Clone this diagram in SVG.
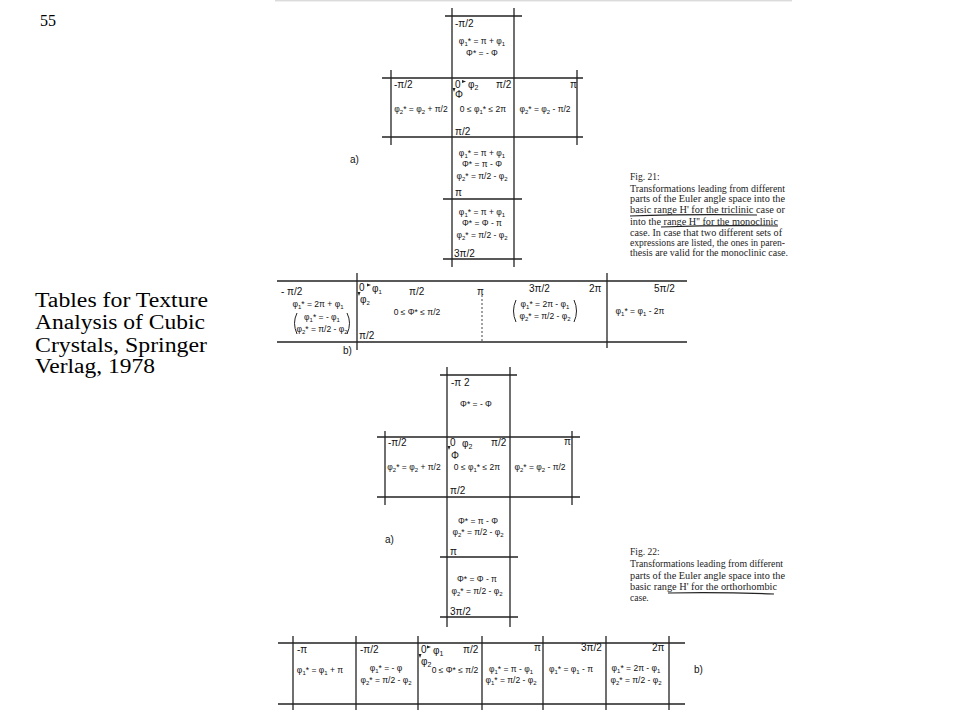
<svg xmlns="http://www.w3.org/2000/svg" width="960" height="720" viewBox="0 0 960 720">
<style>
.ln{stroke:#222;stroke-width:1.3;fill:none}
.dash{stroke:#444;stroke-width:1;stroke-dasharray:2 2;fill:none}
.lb{font-family:"Liberation Sans",Arial,sans-serif;font-size:10px;fill:#111}
.fm{font-family:"Liberation Sans",Arial,sans-serif;font-size:8.5px;fill:#111;text-anchor:middle}
.s{font-size:6px;baseline-shift:-2px}
.cap{font-family:"Liberation Serif","Times New Roman",serif;font-size:9.5px;fill:#222}
.big{font-family:"Liberation Serif","Times New Roman",serif;font-size:20px;fill:#000}
.ul{stroke:#222;stroke-width:1.1;fill:none}
.par{stroke:#222;stroke-width:1;fill:none}
</style>
<rect width="960" height="720" fill="#fff"/>
<line x1="275" y1="0.8" x2="792" y2="0.8" stroke="#ccc" stroke-width="1"/>
<text x="40" y="26" class="big" style="font-size:16px">55</text>
<g id="source">
<text class="big" x="35" y="307" textLength="173" lengthAdjust="spacingAndGlyphs">Tables for Texture</text>
<text class="big" x="35" y="329" textLength="170" lengthAdjust="spacingAndGlyphs">Analysis of Cubic</text>
<text class="big" x="35" y="352" textLength="172" lengthAdjust="spacingAndGlyphs">Crystals, Springer</text>
<text class="big" x="35" y="373" textLength="120" lengthAdjust="spacingAndGlyphs">Verlag, 1978</text>
</g>

<!-- Fig 21 a -->
<g id="fig21a">
<g class="ln">
<line x1="445" y1="16" x2="522" y2="16"/>
<line x1="452" y1="8" x2="452" y2="267"/>
<line x1="514" y1="8" x2="514" y2="267"/>
<line x1="382" y1="78" x2="583" y2="78"/>
<line x1="382" y1="137" x2="583" y2="137"/>
<line x1="391" y1="70" x2="391" y2="145"/>
<line x1="577" y1="70" x2="577" y2="145"/>
<line x1="443" y1="199" x2="522" y2="199"/>
<line x1="443" y1="259" x2="522" y2="259"/>
</g>
<text class="lb" x="455" y="27">-π/2</text>
<text class="fm" x="482" y="44">φ<tspan class="s">1</tspan>* = π + φ<tspan class="s">1</tspan></text>
<text class="fm" x="482" y="56">Φ* = - Φ</text>
<text class="lb" x="394" y="88">-π/2</text>
<text class="lb" x="455" y="88">0</text>
<path d="M462,80 l4,1.5 l-4,1.5z" fill="#222"/>
<text class="lb" x="468" y="88">φ<tspan font-size="7" baseline-shift="-2">2</tspan></text>
<text class="lb" x="496" y="88">π/2</text>
<text class="lb" x="570" y="88">π</text>
<path d="M452.5,88 l1.5,4 l1.5,-4z" fill="#222"/>
<text class="lb" x="455" y="98" font-size="9">Φ</text>
<text class="fm" x="421" y="112">φ<tspan class="s">2</tspan>* = φ<tspan class="s">2</tspan> + π/2</text>
<text class="fm" x="483" y="112">0 ≤ φ<tspan class="s">1</tspan>* ≤ 2π</text>
<text class="fm" x="545" y="112">φ<tspan class="s">2</tspan>* = φ<tspan class="s">2</tspan> - π/2</text>
<text class="lb" x="455" y="135">π/2</text>
<text class="lb" x="350" y="163">a)</text>
<text class="fm" x="482" y="156">φ<tspan class="s">1</tspan>* = π + φ<tspan class="s">1</tspan></text>
<text class="fm" x="482" y="167">Φ* = π - Φ</text>
<text class="fm" x="482" y="179">φ<tspan class="s">2</tspan>* = π/2 - φ<tspan class="s">2</tspan></text>
<text class="lb" x="455" y="196">π</text>
<text class="fm" x="482" y="215">φ<tspan class="s">1</tspan>* = π + φ<tspan class="s">1</tspan></text>
<text class="fm" x="482" y="226">Φ* = Φ - π</text>
<text class="fm" x="482" y="238">φ<tspan class="s">2</tspan>* = π/2 - φ<tspan class="s">2</tspan></text>
<text class="lb" x="454" y="257">3π/2</text>
</g>

<!-- Fig 21 caption -->
<g id="caption21">
<text class="cap" x="630" y="180">Fig. 21:</text>
<text class="cap" x="630" y="192" textLength="155" lengthAdjust="spacingAndGlyphs">Transformations leading from different</text>
<text class="cap" x="630" y="202" textLength="155" lengthAdjust="spacingAndGlyphs">parts of the Euler angle space into the</text>
<text class="cap" x="630" y="213" textLength="155" lengthAdjust="spacingAndGlyphs">basic range H' for the triclinic case or</text>
<text class="cap" x="630" y="225" textLength="148" lengthAdjust="spacingAndGlyphs">into the range H'' for the monoclinic</text>
<text class="cap" x="630" y="236" textLength="152" lengthAdjust="spacingAndGlyphs">case. In case that two different sets of</text>
<text class="cap" x="630" y="246" textLength="155" lengthAdjust="spacingAndGlyphs">expressions are listed, the ones in paren-</text>
<text class="cap" x="630" y="256" textLength="158" lengthAdjust="spacingAndGlyphs">thesis are valid for the monoclinic case.</text>
<path class="ul" d="M630,216 Q690,214 757,215"/>
<path class="ul" d="M661,227 Q720,225 778,226"/>
</g>

<!-- Fig 21 b -->
<g id="fig21b">
<g class="ln">
<line x1="277" y1="281" x2="687" y2="281"/>
<line x1="277" y1="342" x2="687" y2="342"/>
<line x1="357" y1="273" x2="357" y2="350"/>
<line x1="607" y1="273" x2="607" y2="348"/>
</g>
<line class="dash" x1="482" y1="295" x2="482" y2="342"/>
<text class="lb" x="281" y="295">- π/2</text>
<text class="fm" x="318" y="307">φ<tspan class="s">1</tspan>* = 2π + φ<tspan class="s">1</tspan></text>
<text class="fm" x="322" y="320" font-size="7.5">φ<tspan class="s">1</tspan>* = - φ<tspan class="s">1</tspan></text>
<text class="fm" x="322" y="332" font-size="7.5">φ<tspan class="s">2</tspan>* = π/2 - φ<tspan class="s">2</tspan></text>
<path class="par" d="M297,313 Q292,323 297,334"/>
<path class="par" d="M347,313 Q352,323 347,334"/>
<text class="lb" x="359" y="291">0</text>
<path d="M367,283.5 l4,1.5 l-4,1.5z" fill="#222"/>
<text class="lb" x="372" y="292" font-size="9">φ<tspan font-size="6" baseline-shift="-2">1</tspan></text>
<path d="M357.5,292 l1.5,4 l1.5,-4z" fill="#222"/>
<text class="lb" x="360" y="303" font-size="9">φ<tspan font-size="6" baseline-shift="-2">2</tspan></text>
<text class="lb" x="409" y="295">π/2</text>
<text class="fm" x="417" y="315">0 ≤ Φ* ≤ π/2</text>
<text class="lb" x="359" y="339">π/2</text>
<text class="lb" x="477" y="295">π</text>
<text class="lb" x="529" y="292">3π/2</text>
<text class="lb" x="589" y="292">2π</text>
<text class="lb" x="654" y="292">5π/2</text>
<text class="fm" x="545" y="307" font-size="8">φ<tspan class="s">1</tspan>* = 2π - φ<tspan class="s">1</tspan></text>
<text class="fm" x="545" y="319" font-size="8">φ<tspan class="s">2</tspan>* = π/2 - φ<tspan class="s">2</tspan></text>
<path class="par" d="M516,300 Q511,311 516,322"/>
<path class="par" d="M574,300 Q579,311 574,322"/>
<text class="fm" x="640" y="314">φ<tspan class="s">1</tspan>* = φ<tspan class="s">1</tspan> - 2π</text>
<text class="lb" x="343" y="354">b)</text>
</g>

<!-- Fig 22 a -->
<g id="fig22a">
<g class="ln">
<line x1="440" y1="375" x2="517" y2="375"/>
<line x1="447" y1="367" x2="447" y2="627"/>
<line x1="510" y1="367" x2="510" y2="627"/>
<line x1="377" y1="437" x2="580" y2="437"/>
<line x1="377" y1="497" x2="580" y2="497"/>
<line x1="385" y1="431" x2="385" y2="505"/>
<line x1="572" y1="431" x2="572" y2="505"/>
<line x1="440" y1="557" x2="518" y2="557"/>
<line x1="440" y1="617" x2="518" y2="617"/>
</g>
<text class="lb" x="451" y="386">-π 2</text>
<text class="fm" x="476" y="407">Φ* = - Φ</text>
<text class="lb" x="388" y="446">-π/2</text>
<text class="lb" x="450" y="446">0</text>
<text class="lb" x="462" y="447">φ<tspan font-size="7" baseline-shift="-2">2</tspan></text>
<text class="lb" x="491" y="446">π/2</text>
<text class="lb" x="564" y="445">π</text>
<path d="M447.5,446 l1.5,4 l1.5,-4z" fill="#222"/>
<text class="lb" x="451" y="459" font-size="9">Φ</text>
<text class="fm" x="414" y="470">φ<tspan class="s">2</tspan>* = φ<tspan class="s">2</tspan> + π/2</text>
<text class="fm" x="477" y="470">0 ≤ φ<tspan class="s">1</tspan>* ≤ 2π</text>
<text class="fm" x="540" y="470">φ<tspan class="s">2</tspan>* = φ<tspan class="s">2</tspan> - π/2</text>
<text class="lb" x="450" y="494">π/2</text>
<text class="lb" x="385" y="543">a)</text>
<text class="fm" x="478" y="524">Φ* = π - Φ</text>
<text class="fm" x="478" y="535">φ<tspan class="s">2</tspan>* = π/2 - φ<tspan class="s">2</tspan></text>
<text class="lb" x="450" y="555">π</text>
<text class="fm" x="477" y="582">Φ* = Φ - π</text>
<text class="fm" x="477" y="594">φ<tspan class="s">2</tspan>* = π/2 - φ<tspan class="s">2</tspan></text>
<text class="lb" x="450" y="615">3π/2</text>
</g>

<!-- Fig 22 caption -->
<g id="caption22">
<text class="cap" x="630" y="555">Fig. 22:</text>
<text class="cap" x="630" y="567" textLength="153" lengthAdjust="spacingAndGlyphs">Transformations leading from different</text>
<text class="cap" x="630" y="579" textLength="155" lengthAdjust="spacingAndGlyphs">parts of the Euler angle space into the</text>
<text class="cap" x="630" y="590" textLength="147" lengthAdjust="spacingAndGlyphs">basic range H' for the orthorhombic</text>
<text class="cap" x="630" y="601">case.</text>
<path class="ul" d="M668,593 Q720,592 774,594"/>
</g>

<!-- Fig 22 b -->
<g id="fig22b">
<g class="ln">
<line x1="278" y1="643" x2="685" y2="643"/>
<line x1="278" y1="704" x2="685" y2="704"/>
<line x1="293" y1="636" x2="293" y2="710"/>
<line x1="356" y1="636" x2="356" y2="710"/>
<line x1="418" y1="636" x2="418" y2="710"/>
<line x1="482" y1="636" x2="482" y2="710"/>
<line x1="543" y1="636" x2="543" y2="710"/>
<line x1="606" y1="636" x2="606" y2="710"/>
<line x1="669" y1="636" x2="669" y2="710"/>
</g>
<text class="lb" x="297" y="653">-π</text>
<text class="fm" x="320" y="673">φ<tspan class="s">1</tspan>* = φ<tspan class="s">1</tspan> + π</text>
<text class="lb" x="360" y="653">-π/2</text>
<text class="fm" x="386" y="671">φ<tspan class="s">1</tspan>* = - φ</text>
<text class="fm" x="386" y="683">φ<tspan class="s">2</tspan>* = π/2 - φ<tspan class="s">2</tspan></text>
<text class="lb" x="421" y="653">0</text>
<path d="M427,645.5 l4,1.5 l-4,1.5z" fill="#222"/>
<text class="lb" x="433" y="654">φ<tspan font-size="7" baseline-shift="-2">1</tspan></text>
<text class="lb" x="463" y="653">π/2</text>
<path d="M418.5,654 l1.5,4 l1.5,-4z" fill="#222"/>
<text class="lb" x="421" y="665">φ<tspan font-size="7" baseline-shift="-2">2</tspan></text>
<text class="fm" x="455" y="673" font-size="7.5">0 ≤ Φ* ≤ π/2</text>
<text class="lb" x="534" y="651">π</text>
<text class="fm" x="511" y="672">φ<tspan class="s">1</tspan>* = π - φ<tspan class="s">1</tspan></text>
<text class="fm" x="511" y="683">φ<tspan class="s">1</tspan>* = π/2 - φ<tspan class="s">2</tspan></text>
<text class="lb" x="581" y="651">3π/2</text>
<text class="fm" x="571" y="672">φ<tspan class="s">1</tspan>* = φ<tspan class="s">1</tspan> - π</text>
<text class="lb" x="652" y="651">2π</text>
<text class="fm" x="636" y="671">φ<tspan class="s">1</tspan>* = 2π - φ<tspan class="s">1</tspan></text>
<text class="fm" x="636" y="683">φ<tspan class="s">2</tspan>* = π/2 - φ<tspan class="s">2</tspan></text>
<text class="lb" x="694" y="673">b)</text>
</g>
</svg>
